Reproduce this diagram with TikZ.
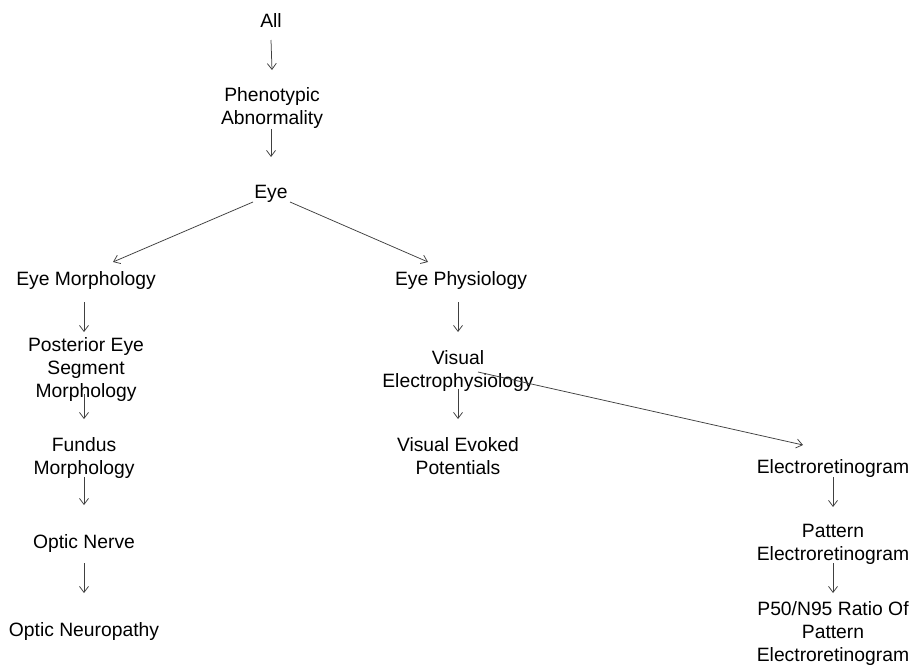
\documentclass[tikz,border=0pt]{standalone}
\usepackage{fontspec}
\setmainfont{Liberation Sans}
\usetikzlibrary{arrows.meta}
\begin{document}
\begin{tikzpicture}[x=1pt,y=-1pt,
  term/.style={font=\fontsize{19.3}{23}\selectfont, align=center, inner sep=0pt, text=black},
  edge/.style={draw=black!75, line width=0.75pt, -{Straight Barb[length=6pt,width=9pt]}}]
\useasboundingbox[fill=white] (0,0) rectangle (917,664);

% terms of the ontology
\node[term] (all)  at (271,21)  {All};
\node[term] (phen) at (272,108) {Phenotypic\\Abnormality};
\node[term] (eye)  at (271,194) {Eye};
\node[term] (em)   at (86,281)  {Eye Morphology};
\node[term] (ep)   at (461,281) {Eye Physiology};
\node[term] (pes)  at (86,370)  {Posterior Eye\\Segment\\Morphology};
\node[term] (ve)   at (458,371) {Visual\\Electrophysiology};
\node[term] (fm)   at (84,458)  {Fundus\\Morphology};
\node[term] (vep)  at (458,456) {Visual Evoked\\Potentials};
\node[term] (er)   at (833,469) {Electroretinogram};
\node[term] (on)   at (84,543)  {Optic Nerve};
\node[term] (pe)   at (833,544) {Pattern\\Electroretinogram};
\node[term] (onp)  at (84,631)  {Optic Neuropathy};
\node[term] (p50)  at (833,633) {P50/N95 Ratio Of\\Pattern\\Electroretinogram};

% is-a links
\draw[edge] ([shift={(0,19)}]all.center)   -- ([shift={(0,-38)}]phen.center);
\draw[edge] ([shift={(-1,21)}]phen.center) -- ([shift={(0,-37)}]eye.center);
\draw[edge] ([shift={(-18,8)}]eye.center)  -- ([shift={(27,-19)}]em.center);
\draw[edge] ([shift={(19,8)}]eye.center)   -- ([shift={(-33,-19)}]ep.center);
\draw[edge] ([shift={(-2,21)}]em.center)   -- ([shift={(-2,-38)}]pes.center);
\draw[edge] ([shift={(-3,21)}]ep.center)   -- ([shift={(0,-39)}]ve.center);
\draw[edge] ([shift={(-2,24)}]pes.center)  -- ([shift={(0,-39)}]fm.center);
\draw[edge] ([shift={(0,19)}]fm.center)    -- ([shift={(0,-38)}]on.center);
\draw[edge] ([shift={(0,20)}]on.center)    -- ([shift={(0,-38)}]onp.center);
\draw[edge] ([shift={(0,18)}]ve.center)    -- ([shift={(0,-37)}]vep.center);
\draw[edge] ([shift={(20,1)}]ve.center)    -- ([shift={(-30,-24)}]er.center);
\draw[edge] ([shift={(0,8)}]er.center)     -- ([shift={(0,-37)}]pe.center);
\draw[edge] ([shift={(0,19)}]pe.center)    -- ([shift={(0,-40)}]p50.center);
\end{tikzpicture}
\end{document}
